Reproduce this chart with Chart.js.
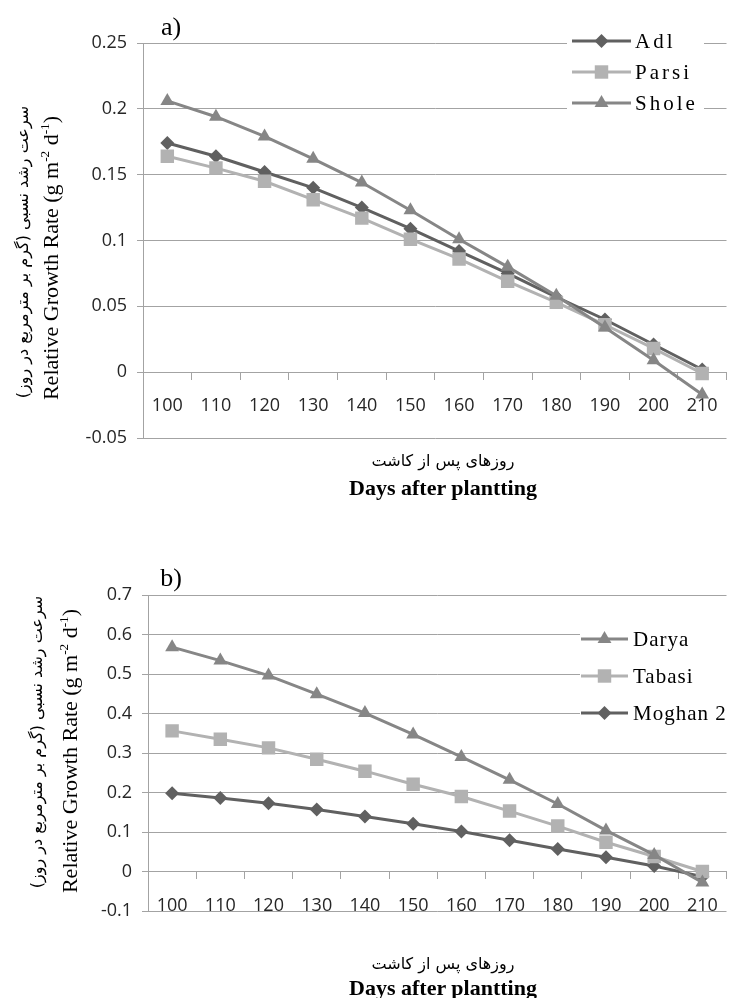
<!DOCTYPE html>
<html>
<head>
<meta charset="utf-8">
<script src="https://cdn.jsdelivr.net/npm/chart.js@4.4.1/dist/chart.umd.min.js"></script>
<style>
  body{margin:0;background:#fff;}
  #wrap{position:relative;width:736px;height:998px;overflow:hidden;}
  .panel{position:absolute;left:0;width:736px;}
  .t{position:absolute;white-space:nowrap;color:#000;}
  .serif{font-family:"Liberation Serif","Times New Roman",serif;}
  .fa{font-family:"DejaVu Sans",sans-serif;font-size:16px;direction:rtl;}
  .rot{transform:translate(-50%,-50%) rotate(-90deg);}
  .ctr{transform:translate(-50%,-50%);}
  sup{font-size:60%;vertical-align:0.7em;line-height:0;}
</style>
</head>
<body>
<div id="wrap">
  <div class="panel" style="top:0;height:520px"><canvas id="cA" width="736" height="520"></canvas></div>
  <div class="panel" style="top:540px;height:458px"><canvas id="cB" width="736" height="458"></canvas></div>

  <div class="t serif ctr" style="left:171px;top:27px;font-size:26px">a)</div>
  <div class="t fa rot" style="left:22px;top:252px">سرعت رشد نسبی (گرم بر مترمربع در روز)</div>
  <div class="t serif rot" style="left:51px;top:258px;font-size:22px">Relative Growth Rate (g m<sup>-2</sup> d<sup>-1</sup>)</div>
  <div class="t fa ctr" style="left:443px;top:460px">روزهای پس از کاشت</div>
  <div class="t serif ctr" style="left:443px;top:488px;font-size:22px;font-weight:bold">Days after plantting</div>

  <div class="t serif ctr" style="left:171px;top:578px;font-size:26px">b)</div>
  <div class="t fa rot" style="left:36px;top:742px">سرعت رشد نسبی (گرم بر مترمربع در روز)</div>
  <div class="t serif rot" style="left:70px;top:751px;font-size:22px">Relative Growth Rate (g m<sup>-2</sup> d<sup>-1</sup>)</div>
  <div class="t fa ctr" style="left:443px;top:963px">روزهای پس از کاشت</div>
  <div class="t serif ctr" style="left:443px;top:988px;font-size:22px;font-weight:bold">Days after plantting</div>
</div>
<script>
// Relative growth rate of cultivars, days 100-210 after planting.
const days = [100,110,120,130,140,150,160,170,180,190,200,210];

// panel a
const adl   = [0.174,0.164,0.152,0.140,0.125,0.109,0.092,0.075,0.057,0.040,0.021,0.002];
const parsi = [0.164,0.155,0.145,0.131,0.117,0.101,0.086,0.069,0.053,0.036,0.018,-0.001];
const shole = [0.206,0.194,0.179,0.162,0.144,0.123,0.101,0.080,0.058,0.034,0.009,-0.017];

// panel b
const darya  = [0.568,0.534,0.496,0.449,0.401,0.347,0.290,0.232,0.171,0.104,0.042,-0.028];
const tabasi = [0.356,0.335,0.313,0.284,0.254,0.221,0.190,0.153,0.115,0.074,0.038,0.000];
const moghan = [0.198,0.186,0.173,0.157,0.139,0.121,0.101,0.079,0.057,0.036,0.014,-0.013];

const DARK = "#606060", LIGHT = "#b2b2b2", MID = "#868686", GRID = "#a3a3a3", INK = "#262626";
const TICKFONT = {family:"'Open Sans', sans-serif", size:18};

function ds(label, data, color, style, r, order){
  return {label, data, borderColor:color, backgroundColor:color, pointBackgroundColor:color,
    pointBorderColor:color, pointBorderWidth:0, pointStyle:style, pointRadius:r, pointHoverRadius:r,
    borderWidth:3, tension:0, order};
}

// legend box drawn inside the plot, over the gridlines
const boxLegend = {
  id:"boxLegend",
  afterDraw(chart, args, o){
    const ctx = chart.ctx;
    ctx.save();
    ctx.fillStyle = "#fff";
    ctx.fillRect(o.x, o.y, o.w, o.h);
    chart.data.datasets.forEach((d, i) => {
      const cy = o.y + o.first + i*o.row;
      ctx.strokeStyle = d.borderColor; ctx.lineWidth = 3;
      ctx.beginPath(); ctx.moveTo(o.x + o.l0, cy); ctx.lineTo(o.x + o.l1, cy); ctx.stroke();
      ctx.fillStyle = d.pointBackgroundColor;
      Chart.helpers.drawPoint(ctx, {pointStyle:d.pointStyle, radius:d.pointRadius, rotation:0, borderWidth:0}, o.x + (o.l0+o.l1)/2, cy);
      ctx.fillStyle = "#000";
      ctx.font = o.font;
      ctx.letterSpacing = o.spacing;
      ctx.textBaseline = "middle";
      ctx.fillText(d.label, o.x + o.tx, cy + 1);
    });
    ctx.restore();
  }
};

function fmt(v){ return String(+(+v).toFixed(2)); }

function lineChart(id, sets, y, layout, legend){
  return new Chart(document.getElementById(id), {
    type:"line",
    data:{labels:days, datasets:sets},
    plugins:[boxLegend],
    options:{
      responsive:false, animation:false,
      layout:{padding:layout.pad},
      plugins:{legend:{display:false}, tooltip:{enabled:false}, boxLegend:legend},
      scales:{
        x:{type:"category", position:{y:0}, offset:true,
           grid:{drawOnChartArea:false, drawTicks:true, tickLength:7, color:GRID, offset:true},
           border:{display:true, color:GRID, width:1},
           ticks:{font:TICKFONT, color:INK, padding:layout.xpad, maxRotation:0, autoSkip:false}},
        y:{min:y.min, max:y.max,
           grid:{color:GRID, tickLength:6, lineWidth:1},
           border:{display:true, color:GRID},
           ticks:{stepSize:y.step, font:TICKFONT, color:INK, padding:10, callback:fmt},
           afterFit:s => { s.width = layout.axisW; }}
      }
    }
  });
}

lineChart("cA",
  [ds("Adl", adl, DARK, "rectRot", 7, 3),
   ds("Parsi", parsi, LIGHT, "rect", 9.5, 2),
   ds("Shole", shole, MID, "triangle", 8, 1)],
  {min:-0.05, max:0.25, step:0.05},
  {pad:{top:43, bottom:82, left:0, right:1}, axisW:143, xpad:16},
  {x:567, y:28, w:137, h:88, first:13, row:31, l0:5, l1:64, tx:68,
   font:"21px 'Liberation Serif', serif", spacing:"3px"});

lineChart("cB",
  [ds("Darya", darya, MID, "triangle", 8, 1),
   ds("Tabasi", tabasi, LIGHT, "rect", 9.5, 2),
   ds("Moghan 2", moghan, DARK, "rectRot", 7, 3)],
  {min:-0.1, max:0.7, step:0.1},
  {pad:{top:55, bottom:87, left:0, right:0}, axisW:148, xpad:17},
  {x:580, y:80, w:152, h:110, first:19, row:37, l0:1, l1:48, tx:53,
   font:"21px 'Liberation Serif', serif", spacing:"1px"});
</script>
</body>
</html>
